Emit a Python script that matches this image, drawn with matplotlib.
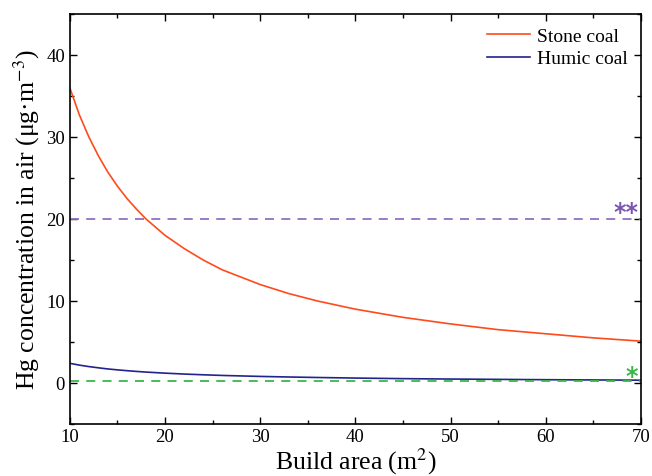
import numpy as np
import matplotlib.pyplot as plt
import matplotlib.ticker as ticker

# -- Data ----------------------------------------------------------------------

AREA = [10, 11, 12, 13, 14, 15, 16, 17, 18, 20, 22, 24, 26, 28, 30, 33, 36,
        40, 45, 50, 55, 60, 65, 70]
STONE_COAL = [36.0, 32.7, 30.0, 27.7, 25.7, 24.0, 22.5, 21.2, 20.0, 18.0,
              16.4, 15.0, 13.8, 12.9, 12.0, 10.9, 10.0, 9.0, 8.0, 7.2, 6.5,
              6.0, 5.5, 5.1]
HUMIC_COAL = [2.4, 2.18, 2.0, 1.85, 1.71, 1.6, 1.5, 1.41, 1.33, 1.2, 1.09,
              1.0, 0.92, 0.86, 0.8, 0.73, 0.67, 0.6, 0.53, 0.48, 0.44, 0.4,
              0.37, 0.34]
LIMIT_HIGH = 20.0   # "**" reference level
LIMIT_LOW = 0.3     # "*" reference level

SERIF = ["Liberation Serif", "DejaVu Serif"]
plt.rcParams["mathtext.fontset"] = "stix"

# -- Plot ----------------------------------------------------------------------

fig, ax = plt.subplots(figsize=(6.52, 4.77), dpi=100)
fig.subplots_adjust(left=0.107, right=0.983, top=0.969, bottom=0.109)

ax.plot(AREA, STONE_COAL, color="#ff4a1c", lw=1.2, label="Stone coal")
ax.plot(AREA, HUMIC_COAL, color="#23238e", lw=1.2, label="Humic coal")
ax.axhline(LIMIT_HIGH, color="#9370c0", lw=1.3, ls=(0, (5, 4)))
ax.axhline(LIMIT_LOW, color="#3cb84b", lw=1.3, ls=(0, (5, 4)))

ax.text(68.4, LIMIT_HIGH + 0.9, "**", color="#7a56b0", fontsize=17,
        ha="center", va="center", family="DejaVu Sans", fontweight="bold")
ax.text(69.0, LIMIT_LOW + 0.6, "*", color="#3cb84b", fontsize=17,
        ha="center", va="center", family="DejaVu Sans", fontweight="bold")

ax.set_xlim(10, 70)
ax.set_ylim(-5, 45)
ax.xaxis.set_major_locator(ticker.MultipleLocator(10))
ax.xaxis.set_minor_locator(ticker.MultipleLocator(5))
ax.yaxis.set_major_locator(ticker.MultipleLocator(10))
ax.yaxis.set_minor_locator(ticker.MultipleLocator(5))
ax.tick_params(which="both", direction="in", top=True, right=True,
               width=1.0, labelsize=13.5)
ax.tick_params(which="major", length=5)
ax.tick_params(which="minor", length=3)
ax.tick_params(axis="x", pad=3)
for lab in ax.get_xticklabels() + ax.get_yticklabels():
    lab.set_family(SERIF)
for sp in ax.spines.values():
    sp.set_linewidth(1.2)

ax.set_xlabel("Build area (m$^2$)", fontsize=18.5, family=SERIF, labelpad=0)
ax.set_ylabel("Hg concentration in air (\u03bcg\u00b7m$^{-3}$)", fontsize=18.5,
              family=SERIF, labelpad=3)

ax.legend(loc="upper right", frameon=False, prop={"family": SERIF, "size": 14},
          handlelength=2.2, handletextpad=0.35, borderaxespad=0.3,
          labelspacing=0.25)

fig.savefig("out.png", dpi=100)
